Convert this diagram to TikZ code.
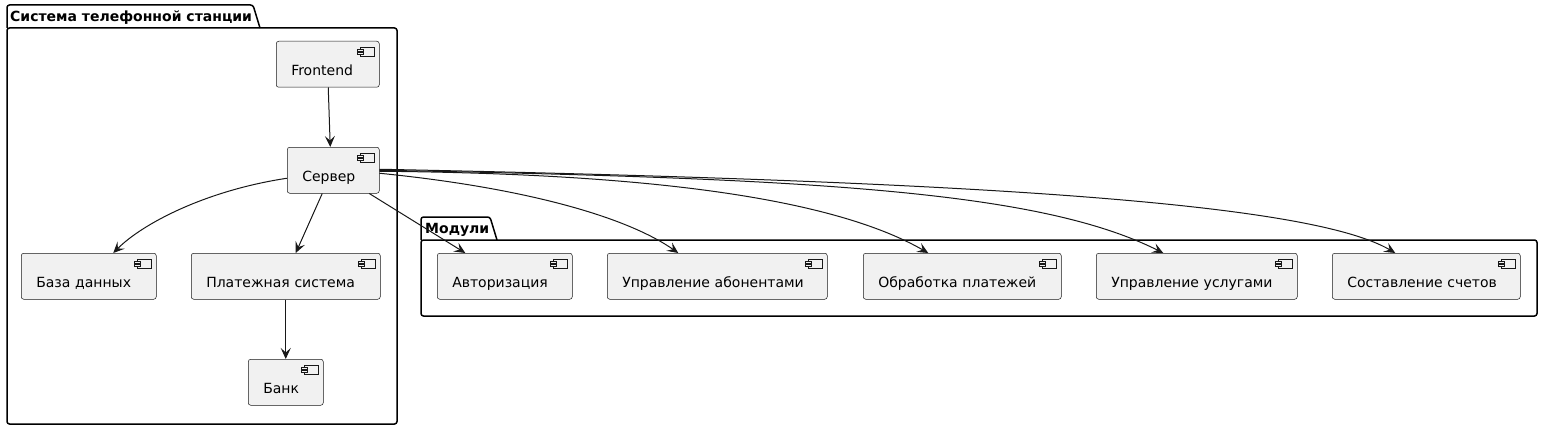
\documentclass[tikz,border=0pt]{standalone}
\usepackage{fontspec}
\setmainfont{DejaVu Sans}
\usetikzlibrary{arrows.meta}
\definecolor{compfill}{HTML}{F1F1F1}
\definecolor{compline}{HTML}{181818}
\tikzset{
    every node/.style={font=\fontsize{14pt}{16pt}\selectfont,},
    comp/.style={draw=compline,fill=compfill,line width=0.5pt,rounded corners=2.5pt,
        anchor=north west,inner xsep=0pt,inner ysep=0pt,text height=34pt,text depth=12pt,align=left,},
    compicon/.style={draw=compline,fill=compfill,line width=0.5pt,},
    pkg/.style={draw=black,line width=1.5pt,rounded corners=2.5pt,},
    pkgtitle/.style={font=\fontsize{14pt}{16pt}\selectfont\bfseries,anchor=base west,inner sep=0pt,},
    link/.style={draw=compline,line width=1pt,-{Stealth[length=11pt,width=10pt,inset=4.5pt]},},
}

\begin{document}
\begin{tikzpicture}[x=1pt,y=-1pt]
                \useasboundingbox (0,0) rectangle (1543,428);

                \draw[pkg] (7,28) -- (7,5) -- (253,5) -- (260,28);
                \draw[pkg] (7,28) rectangle (397,424);
                \node[pkgtitle] (station) at (10,22) {Система телефонной станции};

                \draw[pkg] (421,240) -- (421,217) -- (490,217) -- (497,240);
                \draw[pkg] (421,240) rectangle (1537,316);
                \node[pkgtitle] (modules) at (425,233) {Модули};

                \node[comp,text width=103pt] (frontend) at (276,41) {\hspace*{15pt}\mbox{Frontend}};
                \node[comp,text width=92pt] (server) at (287,147) {\hspace*{15pt}\mbox{Сервер}};
                \node[comp,text width=135pt] (db) at (21,253) {\hspace*{15pt}\mbox{База данных}};
                \node[comp,text width=189pt] (pay) at (191,253) {\hspace*{15pt}\mbox{Платежная система}};
                \node[comp,text width=75pt] (bank) at (248,359) {\hspace*{15pt}\mbox{Банк}};

                \node[comp,text width=135pt] (auth) at (437,253) {\hspace*{15pt}\mbox{Авторизация}};
                \node[comp,text width=220pt] (subs) at (607,253) {\hspace*{15pt}\mbox{Управление абонентами}};
                \node[comp,text width=198pt] (payproc) at (863,253) {\hspace*{15pt}\mbox{Обработка платежей}};
                \node[comp,text width=201pt] (services) at (1096,253) {\hspace*{15pt}\mbox{Управление услугами}};
                \node[comp,text width=188pt] (billing) at (1332,253) {\hspace*{15pt}\mbox{Составление счетов}};

                \foreach \c in {frontend,server,db,pay,bank,auth,subs,payproc,services,billing} {
                    \draw[compicon] ([xshift=-19pt,yshift=-6pt]\c.north east) rectangle ([xshift=-5pt,yshift=-15pt]\c.north east);
                    \draw[compicon] ([xshift=-22pt,yshift=-8pt]\c.north east) rectangle ([xshift=-16pt,yshift=-10pt]\c.north east);
                    \draw[compicon] ([xshift=-22pt,yshift=-11.5pt]\c.north east) rectangle ([xshift=-16pt,yshift=-13.5pt]\c.north east);
                }

                \draw[link] ([xshift=0.5pt]frontend.south) to ([xshift=-3pt]server.north);
                \draw[link] ([yshift=-8pt]server.west) .. controls +(-80,12) and +(30,-30) .. ([xshift=24.5pt]db.north);
                \draw[link] ([xshift=-11pt]server.south) to ([xshift=10pt]pay.north);
                \draw[link] (pay.south) to (bank.north);

                \draw[link] ([xshift=36pt]server.south) to ([xshift=-39.5pt]auth.north);
                \draw[link] ([yshift=-3pt]server.east) .. controls +(150,15) and +(-50,-35) .. ([xshift=-39pt]subs.north);
                \draw[link] ([yshift=-1pt]server.east) .. controls +(221,2) and +(-110,-63) .. ([xshift=-34pt]payproc.north);
                \draw[link] (server.east) .. controls +(450,8) and +(-120,-60) .. ([xshift=-33.5pt]services.north);
                \draw[link] ([yshift=1pt]server.east) .. controls +(600,12) and +(-85,-50) .. ([xshift=-31pt]billing.north);
            \end{tikzpicture}
\end{document}
